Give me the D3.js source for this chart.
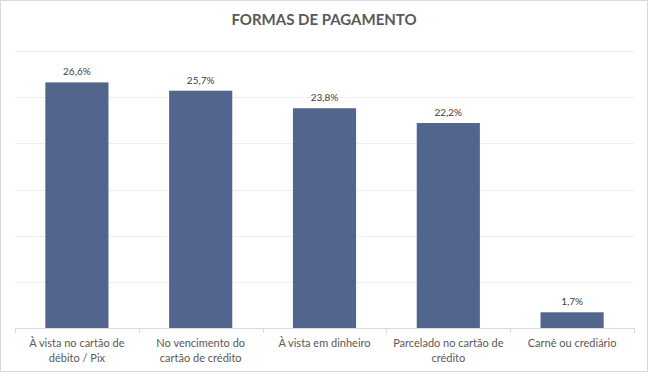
<!DOCTYPE html>
<html>
<head>
<meta charset="utf-8">
<script src="https://cdn.jsdelivr.net/npm/d3@7"></script>
<style>
  body { margin: 0; background: #fff; }
  svg { display: block; font-family: Lato, "Open Sans", sans-serif; }
</style>
</head>
<body>
<svg width="648" height="376"></svg>
<script>
const categories = [
  ['À vista no cartão de', 'débito / Pix'],
  ['No vencimento do', 'cartão de crédito'],
  ['À vista em dinheiro'],
  ['Parcelado no cartão de', 'crédito'],
  ['Carnê ou crediário']
];
const values = [26.6, 25.7, 23.8, 22.2, 1.7];
const yTicks = [0, 5, 10, 15, 20, 25, 30];

const svg = d3.select('svg');
const width = +svg.attr('width');
const height = +svg.attr('height');

const margin = {top: 51, right: 14, bottom: 48, left: 15};
const innerWidth = width - margin.left - margin.right;
const innerHeight = height - margin.top - margin.bottom;

// chart border
svg.append('rect')
  .attr('x', 0.5).attr('y', 0.5)
  .attr('width', width - 1).attr('height', height - 5)
  .attr('fill', '#fff')
  .attr('stroke', '#d9d9d9');

svg.append('text')
  .attr('x', width / 2)
  .attr('y', 25)
  .attr('text-anchor', 'middle')
  .attr('fill', '#595959')
  .attr('font-size', 15)
  .attr('font-weight', 'bold')
  .text('FORMAS DE PAGAMENTO');

const g = svg.append('g')
  .attr('transform', `translate(${margin.left},${margin.top})`);

const keys = categories.map((c, i) => i);

const xScale = d3.scaleBand()
  .domain(keys)
  .range([0, innerWidth])
  .paddingInner(0.49)
  .paddingOuter(0.245);

const yScale = d3.scaleLinear()
  .domain([0, 30])
  .range([innerHeight, 0]);

// gridlines
g.selectAll('.grid')
  .data(yTicks.slice(1))
  .enter().append('line')
  .attr('x1', 0).attr('x2', innerWidth)
  .attr('y1', d => Math.round(yScale(d)) + 0.5)
  .attr('y2', d => Math.round(yScale(d)) + 0.5)
  .attr('stroke', '#efefef');

// bars
g.selectAll('.bar')
  .data(values)
  .enter().append('rect')
  .attr('x', (d, i) => xScale(i))
  .attr('y', d => yScale(d))
  .attr('width', xScale.bandwidth())
  .attr('height', d => innerHeight - yScale(d))
  .attr('fill', '#51658d');

// value labels
g.selectAll('.val')
  .data(values)
  .enter().append('text')
  .attr('x', (d, i) => xScale(i) + xScale.bandwidth() / 2)
  .attr('y', d => yScale(d) - 7)
  .attr('text-anchor', 'middle')
  .attr('fill', '#404040')
  .attr('font-size', 10)
  .text(d => d.toFixed(1).replace('.', ',') + '%');

// x axis line + category separators
g.append('line')
  .attr('x1', 0).attr('x2', innerWidth)
  .attr('y1', innerHeight + 0.5).attr('y2', innerHeight + 0.5)
  .attr('stroke', '#d9d9d9');

g.selectAll('.sep')
  .data(d3.range(categories.length + 1))
  .enter().append('line')
  .attr('x1', i => Math.round(i * innerWidth / categories.length) + 0.5)
  .attr('x2', i => Math.round(i * innerWidth / categories.length) + 0.5)
  .attr('y1', innerHeight)
  .attr('y2', innerHeight + 5)
  .attr('stroke', '#d9d9d9');

// category labels
const labels = g.selectAll('.cat')
  .data(categories)
  .enter().append('text')
  .attr('text-anchor', 'middle')
  .attr('fill', '#595959')
  .attr('font-size', 11)
  .attr('transform', (d, i) => `translate(${xScale(i) + xScale.bandwidth() / 2},${innerHeight + 19})`);

labels.selectAll('tspan')
  .data(d => d)
  .enter().append('tspan')
  .attr('x', 0)
  .attr('dy', (d, i) => i === 0 ? 0 : 15)
  .text(d => d);
</script>
</body>
</html>
